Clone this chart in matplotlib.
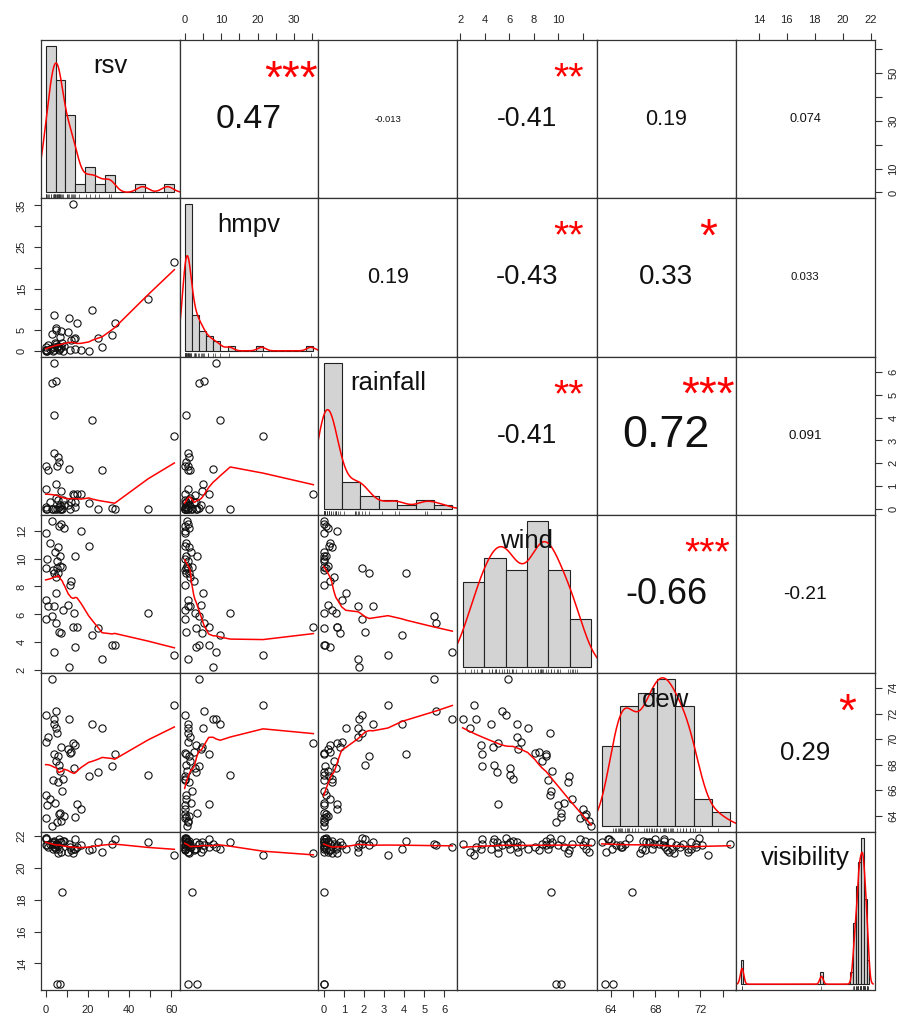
import numpy as np
import matplotlib
matplotlib.use("Agg")
import matplotlib.pyplot as plt
import matplotlib.transforms as mtransforms

plt.rcParams['font.family'] = ['Liberation Sans', 'DejaVu Sans']

names = ["rsv", "hmpv", "rainfall", "wind", "dew", "visibility"]

rsv = [61.5, 49.0, 12.9, 33.0, 31.8, 25.0, 22.2, 27.0, 20.6, 16.9, 15.0, 14.2,
       11.0, 4.0, 2.9, 4.9, 4.0, 8.0, 5.6, 6.8, 4.0, 6.0, 6.3, 5.6,
       0.0, 1.0, 5.0, 2.9, 0.0, 6.5, 7.5, 9.0, 1.9, 4.5, 14.0, 0.5,
       5.8, 6.8, 3.5, 4.8, 0.3, 12.0, 11.5, 10.8, 8.5, 0.0, 13.5, 7.2]
hmpv = [21.5, 12.5, 35.3, 6.6, 3.8, 3.0, 9.8, 1.0, 0.0, 0.1, 6.6, 3.0,
        7.8, 8.6, 4.0, 5.4, 0.3, 1.9, 0.9, 3.3, 1.0, 1.2, 0.5, 0.8,
        0.2, 1.5, 5.0, 0.6, 0.0, 0.2, 0.8, 1.2, 0.4, 1.8, 0.5, 0.0,
        1.1, 0.7, 0.0, 1.6, 0.3, 2.5, 0.1, 4.5, 0.0, 0.9, 2.8, 4.8]
rainfall = [3.2, 0.0, 0.66, 0.0, 0.05, 0.0, 3.9, 1.7, 0.28, 0.66, 0.66, 0.3,
            1.74, 6.4, 5.5, 5.6, 4.1, 0.0, 0.0, 0.0, 2.44, 2.27, 2.07, 1.89,
            1.9, 1.7, 1.1, 0.0, 0.0, 0.1, 0.0, 0.2, 0.3, 0.0, 0.1, 0.0,
            0.4, 0.2, 0.0, 0.5, 0.1, 0.3, 0.0, 0.2, 0.4, 0.9, 0.6, 0.8]
wind = [3.1, 6.1, 5.1, 3.8, 3.8, 5.0, 4.5, 2.8, 10.9, 12.0, 5.1, 3.7,
        2.2, 3.3, 5.9, 5.4, 9.0, 9.4, 9.8, 10.2, 6.6, 9.0, 4.75, 9.3,
        5.7, 6.6, 7.5, 12.7, 11.8, 12.3, 12.5, 12.2, 11.1, 10.5, 10.2, 10.0,
        10.8, 9.5, 9.2, 8.7, 9.3, 8.4, 8.1, 6.7, 6.3, 7.0, 6.1, 4.7]
dew = [72.7, 67.2, 69.7, 68.8, 67.9, 67.4, 71.2, 70.9, 67.1, 64.5, 64.9, 69.5,
       71.6, 71.6, 74.7, 72.2, 68.8, 65.9, 63.5, 64.2, 71.2, 68.7, 68.0, 70.5,
       71.9, 70.2, 70.9, 63.2, 63.8, 64.1, 63.6, 64.0, 65.3, 65.0, 63.9, 64.8,
       66.6, 67.5, 66.8, 68.3, 65.6, 69.0, 68.9, 69.2, 66.9, 69.8, 67.7, 69.4]
visibility = [20.8, 21.6, 20.9, 21.8, 21.5, 21.6, 21.2, 21.0, 21.1, 21.4, 21.3, 21.2,
              21.5, 21.3, 21.5, 21.4, 21.7, 18.5, 12.7, 12.7, 21.6, 21.4, 21.8, 21.5,
              21.9, 21.3, 21.2, 21.6, 21.8, 21.2, 21.0, 21.7, 21.5, 21.3, 21.8, 21.4,
              20.9, 21.6, 21.2, 21.5, 21.9, 21.1, 21.3, 21.0, 21.7, 21.4, 21.2, 21.6]

# upper triangle, row by row
corr_labels = ["0.47", "-0.013", "-0.41", "0.19", "0.074",
               "0.19", "-0.43", "0.33", "0.033",
               "-0.41", "0.72", "0.091",
               "-0.66", "-0.21",
               "0.29"]
corr_stars = ["***", "", "**", "", "",
              "", "**", "*", "",
              "**", "***", "",
              "***", "",
              "*"]

bin_width = [5, 2, 1, 2, 2, 0.2]

rsv_ticks = [0, 10, 20, 30, 40, 50, 60]
rsv_xlabels = ["0", "", "20", "", "40", "", "60"]
rsv_ylabels = ["0", "10", "", "30", "", "50", ""]
hmpv_ticks = [0, 5, 10, 15, 20, 25, 30, 35]
hmpv_xlabels = ["0", "", "10", "", "20", "", "30", ""]
hmpv_ylabels = ["0", "5", "", "15", "", "25", "", "35"]
rain_ticks = [0, 1, 2, 3, 4, 5, 6]
rain_labels = ["0", "1", "2", "3", "4", "5", "6"]
wind_ticks = [2, 4, 6, 8, 10, 12]
wind_xlabels = ["2", "4", "6", "8", "10", ""]
wind_ylabels = ["2", "4", "6", "8", "10", "12"]
dew_ticks = [64, 66, 68, 70, 72, 74]
dew_xlabels = ["64", "", "68", "", "72", ""]
dew_ylabels = ["64", "66", "68", "70", "72", "74"]
vis_ticks = [14, 16, 18, 20, 22]
vis_labels = ["14", "16", "18", "20", "22"]

data = [np.array(v, float) for v in (rsv, hmpv, rainfall, wind, dew, visibility)]
ticks = [rsv_ticks, hmpv_ticks, rain_ticks, wind_ticks, dew_ticks, vis_ticks]
xlabs = [rsv_xlabels, hmpv_xlabels, rain_labels, wind_xlabels, dew_xlabels, vis_labels]
ylabs = [rsv_ylabels, hmpv_ylabels, rain_labels, wind_ylabels, dew_ylabels, vis_labels]


def lowess(x, y, f=2/3, iters=3):
    o = np.argsort(x, kind="mergesort")
    x = x[o]; y = y[o]
    n = len(x)
    ns = max(min(int(f * n + 1e-7), n), 2)
    rw = np.ones(n)
    fit = np.zeros(n)
    for it in range(iters + 1):
        for i in range(n):
            d = np.abs(x - x[i])
            h = np.sort(d)[ns - 1]
            if h <= 0:
                w = (d <= 0).astype(float)
            else:
                w = (1 - np.clip(d / h, 0, 1) ** 3) ** 3
                w[d <= 0.001 * h] = 1.0
                w[d > 0.999 * h] = 0.0
            w = w * rw
            sw = w.sum()
            if sw <= 0:
                fit[i] = y[i]
                continue
            w = w / sw
            a = (w * x).sum()
            c = (w * (x - a) ** 2).sum()
            if np.sqrt(c) > 0.001 * (x[-1] - x[0]):
                w = w * ((x[i] - a) / c * (x - a) + 1)
            fit[i] = (w * y).sum()
        if it == iters:
            break
        res = y - fit
        cmad = 6 * np.median(np.abs(res))
        if cmad < 1e-7 * np.mean(np.abs(y)):
            break
        u = np.abs(res) / cmad
        rw = np.where(u < 1, (1 - u ** 2) ** 2, 0.0)
        rw[np.abs(res) <= 0.001 * cmad] = 1.0
    return x, fit


def density(x):
    n = len(x)
    q75, q25 = np.percentile(x, [75, 25])
    lo = min(x.std(ddof=1), (q75 - q25) / 1.34)
    if lo <= 0:
        lo = x.std(ddof=1)
    bw = 0.9 * lo * n ** -0.2
    g = np.linspace(x.min() - 3 * bw, x.max() + 3 * bw, 512)
    k = np.exp(-0.5 * ((g[:, None] - x[None, :]) / bw) ** 2).sum(1)
    return g, k / (n * bw * np.sqrt(2 * np.pi))


def padded(lo, hi):
    r = hi - lo
    return lo - 0.04 * r, hi + 0.04 * r


# Helvetica advance widths (em) for sizing the correlation text like R's strwidth
adv = {".": 0.278, "-": 0.333, "*": 0.389}


def text_width(s):
    return sum(adv.get(c, 0.556) for c in s)


fig = plt.figure(figsize=(8.99, 10.24), dpi=100)
L, R, T, B = 40.5 / 899, 874.5 / 899, 1 - 40 / 1024, 1 - 990 / 1024
gs = fig.add_gridspec(6, 6, left=L, right=R, top=T, bottom=B, wspace=0, hspace=0)
panel_w_pt = (R - L) / 6 * 8.99 * 72

nv = len(names)
k = 0
axes = [[None] * nv for _ in range(nv)]
for i in range(nv):
    for j in range(nv):
        ax = fig.add_subplot(gs[i, j])
        axes[i][j] = ax
        for s in ax.spines.values():
            s.set_color("#333333")
            s.set_linewidth(0.9)
        ax.tick_params(length=0, labelbottom=False, labelleft=False)
        ax.set_xticks([])
        ax.set_yticks([])
        x, y = data[j], data[i]
        if i == j:
            w = bin_width[i]
            b0 = np.floor(x.min() / w + 1e-9) * w
            b1 = np.ceil(x.max() / w - 1e-9) * w
            br = np.round(np.arange(b0, b1 + w / 2, w), 6)
            idx = np.clip(np.searchsorted(br, x, side="left") - 1, 0, len(br) - 2)
            cnt = np.bincount(idx, minlength=len(br) - 1)
            dens = cnt / (len(x) * w)
            ax.bar(br[:-1], dens, width=w, align="edge", color="#D3D3D3",
                   edgecolor="#222222", linewidth=0.8)
            g, kd = density(x)
            ax.plot(g, kd, color="red", lw=1.1)
            ax.vlines(x, 0, 0.025, transform=ax.get_xaxis_transform(),
                      color="#333333", lw=0.5)
            ax.set_xlim(*padded(br[0], br[-1]))
            ax.set_ylim(*padded(0, dens.max()))
            ax.text(0.5, 0.833, names[i], transform=ax.transAxes, ha="center",
                    va="center", fontsize=18.5, color="#111111")
        else:
            ax.set_xlim(*padded(x.min(), x.max()))
            ax.set_ylim(*padded(y.min(), y.max()))
            if i > j:
                ax.plot(x, y, "o", mfc="none", mec="#111111", ms=5.2, mew=0.8)
                lx, ly = lowess(x, y)
                ax.plot(lx, ly, color="red", lw=1.1)
            else:
                txt = corr_labels[k]
                st = corr_stars[k]
                k += 1
                r = abs(float(txt))
                base = 0.8 * panel_w_pt / text_width(txt)
                ax.text(0.5, 0.5, txt, transform=ax.transAxes, ha="center",
                        va="center", fontsize=base * (r + 0.3) / 1.3,
                        color="#111111")
                if st:
                    fs = 0.8 * base
                    tr = mtransforms.offset_copy(ax.transAxes, fig=fig,
                                                 y=-0.45 * fs, units="points")
                    t = ax.text(0.8, 0.8, st, transform=tr, ha="center",
                                va="baseline", fontsize=fs, color="red")
                    t.set_clip_on(True)
                    t.set_clip_box(ax.bbox)

tick_kw = dict(length=5, width=0.8, labelsize=8, color="#333333", labelcolor="#222222")
for j in range(nv):
    if j % 2 == 1:
        ax = axes[0][j]
        ax.set_xticks(ticks[j])
        ax.set_xticklabels(xlabs[j])
        ax.tick_params(axis="x", top=True, labeltop=True, bottom=False,
                       labelbottom=False, pad=6, **tick_kw)
    else:
        ax = axes[nv - 1][j]
        ax.set_xticks(ticks[j])
        ax.set_xticklabels(xlabs[j])
        ax.tick_params(axis="x", bottom=True, labelbottom=True, pad=6, **tick_kw)
for i in range(nv):
    if i % 2 == 1:
        ax = axes[i][0]
        ax.set_yticks(ticks[i])
        ax.set_yticklabels(ylabs[i], rotation=90, va="center")
        ax.tick_params(axis="y", left=True, labelleft=True, pad=5, **tick_kw)
    else:
        ax = axes[i][nv - 1]
        ax.set_yticks(ticks[i])
        ax.set_yticklabels(ylabs[i], rotation=90, va="center")
        ax.tick_params(axis="y", right=True, labelright=True, left=False,
                       labelleft=False, pad=5, **tick_kw)

fig.savefig("out.png", dpi=100)
